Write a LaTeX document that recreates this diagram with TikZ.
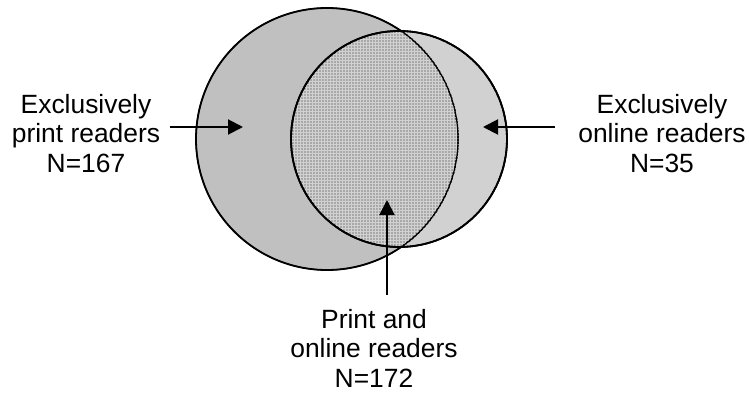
\documentclass[tikz,border=0pt]{standalone}
\usepackage{fontspec}
\setmainfont{Liberation Sans}
\usepackage{tikz}
\usetikzlibrary{arrows.meta, patterns}
\definecolor{PrintGray}{HTML}{C0C0C0}
\definecolor{OnlineGray}{HTML}{808080}

\begin{document}
\begin{tikzpicture}[
    x=1pt, y=-1pt,
    set/.style={circle, draw=black, line width=1.8pt, inner sep=0pt},
    label/.style={align=center, anchor=north, inner sep=0pt, font=\fontsize{26.4}{29.5}\selectfont},
    arrow/.style={-{Triangle[length=15pt, width=15pt]}, line width=2pt, color=black}
]
    \useasboundingbox (0,0) rectangle (749,393);

    % the two reader groups
    \node[set, fill=PrintGray, minimum size=262pt] (print) at (327,139) {};
    \node[set, fill=OnlineGray, fill opacity=0.36, minimum size=216pt] (online) at (399,139) {};
    \fill[pattern=grid, pattern color=black!18] (online.center) circle (107pt);
    \draw[line width=1.2pt] (print.center) circle (131pt);
    \draw[line width=1.8pt] (online.center) circle (108pt);

    % labels
    \node[label] (printlbl) at (86,94) {Exclusively\\print readers\\N=167};
    \node[label] (onlinelbl) at (662,94) {Exclusively\\online readers\\N=35};
    \node[label] (bothlbl) at (374,309) {Print and\\online readers\\N=172};

    \coordinate (printtip) at (243,127);
    \coordinate (onlinetip) at (483,127);
    \coordinate (bothtip) at (387,200);

    \draw[arrow] (printlbl.east |- printtip) ++(10,0) -- (printtip);
    \draw[arrow] (onlinelbl.west |- onlinetip) ++(-23,0) -- (onlinetip);
    \draw[arrow] (bothlbl.north -| bothtip) ++(0,-14) -- (bothtip);
\end{tikzpicture}
\end{document}
